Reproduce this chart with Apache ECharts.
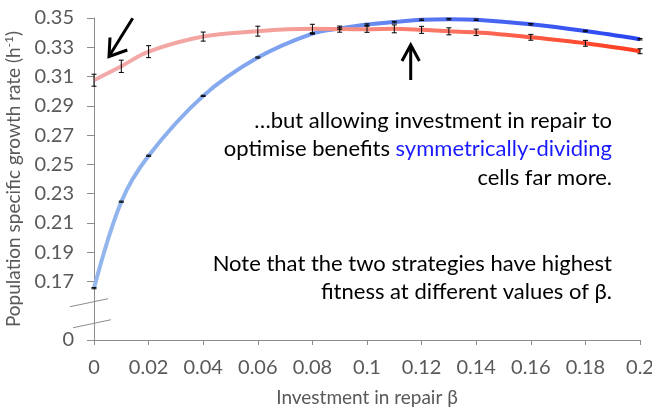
<!DOCTYPE html>
<html>
<head>
<meta charset="utf-8">
<script src="https://cdn.jsdelivr.net/npm/echarts@6/dist/echarts.min.js"></script>
<style>
html,body{margin:0;padding:0;background:#fff;}
#chart{width:652px;height:407px;}
</style>
</head>
<body>
<div id="chart"></div>
<script>
// ---- data ----
const beta = [0, 0.01, 0.02, 0.04, 0.06, 0.08, 0.09, 0.1, 0.11, 0.12, 0.13, 0.14, 0.16, 0.18, 0.2];
const asymMean = [0.3075, 0.317, 0.327, 0.3373, 0.341, 0.3426, 0.3424, 0.3423, 0.3426, 0.3419, 0.3409, 0.3402, 0.3368, 0.3327, 0.3273];
const asymErr  = [0.0041, 0.0042, 0.0041, 0.0031, 0.0034, 0.0031, 0.0021, 0.0021, 0.0027, 0.0024, 0.0024, 0.0022, 0.0020, 0.0020, 0.0017];
const symMean  = [0.1654, 0.2245, 0.2559, 0.2968, 0.323, 0.3394, 0.3428, 0.3455, 0.3472, 0.3488, 0.3492, 0.3488, 0.3457, 0.3411, 0.3355];
const symErr   = [0.0004, 0.0004, 0.0004, 0.0004, 0.0004, 0.0005, 0.0005, 0.0005, 0.0005, 0.0005, 0.0005, 0.0005, 0.0005, 0.0005, 0.0005];
const xTicks = [0, 0.02, 0.04, 0.06, 0.08, 0.1, 0.12, 0.14, 0.16, 0.18, 0.2];
const yTicks = [0.13, 0.17, 0.19, 0.21, 0.23, 0.25, 0.27, 0.29, 0.31, 0.33, 0.35]; // 0.13 position shown as "0" (broken axis)
const yZeroPos = 0.13;

const FONT = 'Lato';
const GRAY = '#595959';
const AXIS = '#8c8c8c';

const asymData = beta.map((b, i) => [b, asymMean[i]]);
const symData = beta.map((b, i) => [b, symMean[i]]);
const asymErrData = beta.map((b, i) => [b, asymMean[i] - asymErr[i], asymMean[i] + asymErr[i]]);
const symErrData = beta.map((b, i) => [b, symMean[i] - symErr[i], symMean[i] + symErr[i]]);

function errRender(params, api) {
  const x = api.value(0);
  const lo = api.coord([x, api.value(1)]);
  const hi = api.coord([x, api.value(2)]);
  const w = 2.5;
  const st = {stroke: '#000', lineWidth: 1};
  return {
    type: 'group',
    children: [
      {type: 'line', shape: {x1: lo[0], y1: lo[1], x2: hi[0], y2: hi[1]}, style: st},
      {type: 'line', shape: {x1: lo[0] - w, y1: lo[1], x2: lo[0] + w, y2: lo[1]}, style: st},
      {type: 'line', shape: {x1: hi[0] - w, y1: hi[1], x2: hi[0] + w, y2: hi[1]}, style: st}
    ]
  };
}

const chart = echarts.init(document.getElementById('chart'), null, {renderer: 'canvas'});

const fmt = v => {
  if (Math.abs(v - yZeroPos) < 1e-6) return '0';
  return String(+v.toFixed(2));
};

const option = {
  animation: false,
  backgroundColor: '#fff',
  grid: {left: 94, right: 12, top: 18, bottom: 67, containLabel: false, outerBoundsMode: 'none'},
  xAxis: {
    type: 'value', min: 0, max: 0.2, interval: 0.02,
    name: 'Investment in repair β', nameLocation: 'middle', nameGap: 48,
    nameTextStyle: {fontFamily: FONT, fontSize: 19, color: GRAY},
    axisLine: {show: true, lineStyle: {color: AXIS, width: 1}},
    axisTick: {show: true, length: 5, lineStyle: {color: AXIS}},
    axisLabel: {fontFamily: FONT, fontSize: 20, color: GRAY, margin: 18, formatter: v => String(+v.toFixed(2)), customValues: xTicks},
    splitLine: {show: false}
  },
  yAxis: {
    type: 'value', min: 0.13, max: 0.35, interval: 0.02,
    name: '{a|Population specific growth rate (h}{s|-1}{a|)}', nameLocation: 'middle', nameGap: 67, nameRotate: 90,
    nameTextStyle: {
      rich: {
        a: {fontFamily: FONT, fontSize: 19, color: GRAY},
        s: {fontFamily: FONT, fontSize: 12, color: GRAY, verticalAlign: 'top', padding: [0, 0, 9, 0]}
      }
    },
    axisLine: {show: true, lineStyle: {color: AXIS, width: 1}},
    axisTick: {show: true, length: 7, lineStyle: {color: AXIS}, customValues: yTicks},
    axisLabel: {fontFamily: FONT, fontSize: 20, color: GRAY, margin: 20, formatter: fmt, customValues: yTicks},
    splitLine: {show: false}
  },
  series: [
    {
      type: 'line', data: asymData, smooth: 0.35, symbol: 'none', z: 3,
      lineStyle: {width: 4, color: new echarts.graphic.LinearGradient(0, 0, 1, 0, [
        {offset: 0, color: '#f1abab'}, {offset: 0.35, color: '#f4a09a'}, {offset: 0.6, color: '#fa7a6a'}, {offset: 1, color: '#ff3a1c'}
      ])}
    },
    {
      type: 'line', data: symData, smooth: 0.35, symbol: 'none', z: 2,
      lineStyle: {width: 4, color: new echarts.graphic.LinearGradient(0, 0, 1, 0, [
        {offset: 0, color: '#94b8ec'}, {offset: 0.4, color: '#7a9ef0'}, {offset: 0.7, color: '#4a68f2'}, {offset: 1, color: '#2a44f0'}
      ])}
    },
    {type: 'custom', renderItem: errRender, data: asymErrData, encode: {x: 0, y: [1, 2]}, z: 5},
    {type: 'custom', renderItem: errRender, data: symErrData, encode: {x: 0, y: [1, 2]}, z: 5}
  ]
};
chart.setOption(option);

// Annotations: break marks anchored to axis origin, arrows and texts
const o = chart.convertToPixel({gridIndex: 0}, [0, 0.15]);
const ox = o[0], oy = o[1];
const textStyleBase = {fontFamily: FONT, fontSize: 22, fill: '#000', align: 'right', verticalAlign: 'middle'};
chart.setOption({
  graphic: [
    {type: 'line', shape: {x1: ox - 24, y1: oy - 4, x2: ox + 14, y2: oy - 12}, style: {stroke: AXIS, lineWidth: 1}},
    {type: 'line', shape: {x1: ox - 21, y1: oy + 17, x2: ox + 17, y2: oy + 9}, style: {stroke: AXIS, lineWidth: 1}},
    // arrow 1
    {type: 'line', shape: {x1: 132.7, y1: 18.3, x2: 109.5, y2: 55.5}, style: {stroke: '#000', lineWidth: 3}},
    {type: 'polyline', shape: {points: [[110, 37.5], [109, 56.5], [127.3, 50]]}, style: {stroke: '#000', lineWidth: 3, fill: null}},
    // arrow 2
    {type: 'line', shape: {x1: 410.7, y1: 80, x2: 410.7, y2: 46}, style: {stroke: '#000', lineWidth: 3}},
    {type: 'polyline', shape: {points: [[402, 61], [410.7, 45], [419.4, 61]]}, style: {stroke: '#000', lineWidth: 3, fill: null}},
    // text block 1
    {type: 'text', x: 612, y: 121, style: Object.assign({}, textStyleBase, {text: '…but allowing investment in repair to'})},
    {type: 'text', x: 612, y: 149, style: Object.assign({}, textStyleBase, {
      text: '{k|optimise benefits }{b|symmetrically-dividing}',
      rich: {k: {fontFamily: FONT, fontSize: 22, fill: '#000', color: '#000'}, b: {fontFamily: FONT, fontSize: 22, fill: '#1a1aff', color: '#1a1aff'}}
    })},
    {type: 'text', x: 612, y: 178, style: Object.assign({}, textStyleBase, {text: 'cells far more.'})},
    // text block 2
    {type: 'text', x: 612, y: 264, style: Object.assign({}, textStyleBase, {text: 'Note that the two strategies have highest'})},
    {type: 'text', x: 612, y: 292, style: Object.assign({}, textStyleBase, {text: 'fitness at different values of β.'})}
  ]
});
</script>
</body>
</html>
